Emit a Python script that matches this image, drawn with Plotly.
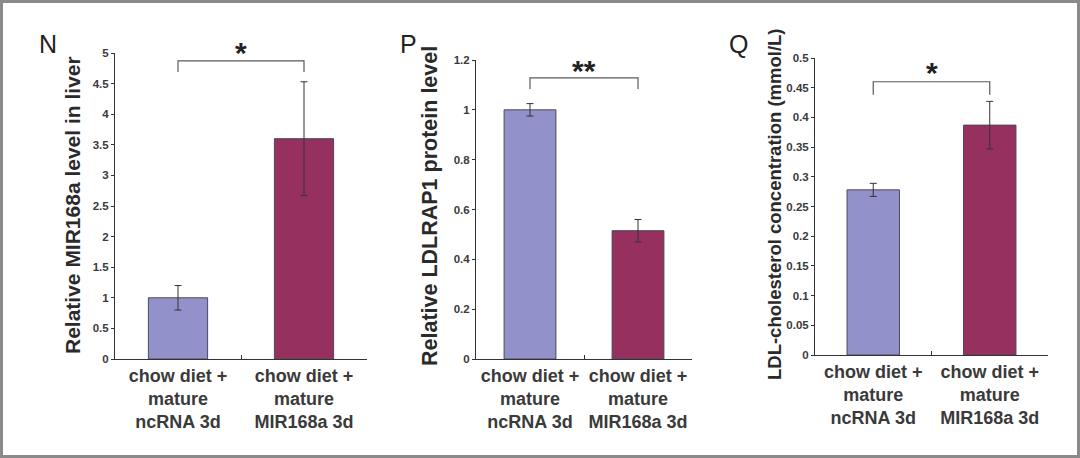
import plotly.graph_objects as go

W, H = 1080, 458

categories = ["ncRNA", "MIR168a"]
cat_labels = ["<b>chow diet +</b><br><b>mature</b><br><b>ncRNA 3d</b>",
              "<b>chow diet +</b><br><b>mature</b><br><b>MIR168a 3d</b>"]

n_values = [1.0, 3.6]
n_errors = [0.2, 0.93]
p_values = [1.0, 0.515]
p_errors = [0.025, 0.045]
q_values = [0.278, 0.387]
q_errors = [0.011, 0.04]

panel_letters = ["N", "P", "Q"]
y_titles = ["Relative MIR168a level in liver", "Relative LDLRAP1 protein level",
            "LDL-cholesterol concentration (mmol/L)"]
y_ranges = [[0, 5], [0, 1.2], [0, 0.5]]
y_tickvals = [
    [0, 0.5, 1, 1.5, 2, 2.5, 3, 3.5, 4, 4.5, 5],
    [0, 0.2, 0.4, 0.6, 0.8, 1, 1.2],
    [0, 0.05, 0.1, 0.15, 0.2, 0.25, 0.3, 0.35, 0.4, 0.45, 0.5],
]
y_ticktext = [
    ["0", "0.5", "1", "1.5", "2", "2.5", "3", "3.5", "4", "4.5", "5"],
    ["0", "0.2", "0.4", "0.6", "0.8", "1", "1.2"],
    ["0", "0.05", "0.1", "0.15", "0.2", "0.25", "0.3", "0.35", "0.4", "0.45", "0.5"],
]
sig_marks = ["*", "**", "*"]
bracket_top = [4.87, 1.128, 0.46]
bracket_low = [4.69, 1.084, 0.438]

bar_colors = ["#9391C9", "#95305F"]

# layout geometry (pixels)
x_px = [(115, 367), (476, 692), (815, 1048)]
y_px = [(53, 359), (60, 359), (58, 355)]
bar_widths = [0.47, 0.48, 0.45]
title_x = [72, 430, 774]
title_y = [205, 206, 204]
title_size = [21, 21.5, 18.5]
letter_x = [48, 408, 738]
letter_y = 44
star_shift = [8, 7, 9]

values = [n_values, p_values, q_values]
errors = [n_errors, p_errors, q_errors]

fig = go.Figure()
for i in range(3):
    xa = "x" if i == 0 else f"x{i+1}"
    ya = "y" if i == 0 else f"y{i+1}"
    fig.add_trace(go.Bar(
        x=categories, y=values[i], xaxis=xa, yaxis=ya,
        width=bar_widths[i],
        marker=dict(color=bar_colors, line=dict(color="#4a4a5a", width=1)),
        error_y=dict(type="data", array=errors[i], visible=True,
                     color="#333333", thickness=1, width=3.5),
        showlegend=False, hoverinfo="skip",
    ))
    fig.add_trace(go.Scatter(
        x=[categories[0], categories[0], categories[1], categories[1]],
        y=[bracket_low[i], bracket_top[i], bracket_top[i], bracket_low[i]],
        xaxis=xa, yaxis=ya, mode="lines",
        line=dict(color="#5a5a5a", width=1.2),
        showlegend=False, hoverinfo="skip", cliponaxis=False,
    ))

FONT = "Liberation Sans, Arial, sans-serif"
layout = dict(
    width=W, height=H,
    margin=dict(l=0, r=0, t=0, b=0, pad=0, autoexpand=False),
    paper_bgcolor="white", plot_bgcolor="white",
    font=dict(family=FONT, color="#333333"),
)
annotations = []
for i in range(3):
    xk = "xaxis" if i == 0 else f"xaxis{i+1}"
    yk = "yaxis" if i == 0 else f"yaxis{i+1}"
    xref = "x" if i == 0 else f"x{i+1}"
    yref = "y" if i == 0 else f"y{i+1}"
    x0, x1 = x_px[i]
    ytop, ybot = y_px[i]
    layout[xk] = dict(
        domain=[x0 / W, x1 / W], anchor=yref, automargin=False,
        type="category", range=[-0.5, 1.5],
        tickmode="array", tickvals=categories, ticktext=cat_labels,
        tickson="boundaries", ticks="inside", ticklen=4, tickcolor="#333333",
        showline=True, linecolor="#333333", linewidth=1,
        showgrid=False, zeroline=False,
        tickfont=dict(size=18, color="#3a3a3a", family=FONT),
        fixedrange=True,
    )
    layout[yk] = dict(
        domain=[(H - ybot) / H, (H - ytop) / H], anchor=xref, automargin=False,
        range=y_ranges[i], tickmode="array",
        tickvals=y_tickvals[i], ticktext=["<b>" + t + "</b>" for t in y_ticktext[i]],
        ticks="outside", ticklen=3, tickcolor="#333333",
        showline=True, linecolor="#333333", linewidth=1,
        showgrid=False, zeroline=False,
        tickfont=dict(size=11.5, color="#3a3a3a", family=FONT),
        fixedrange=True,
    )
    annotations.append(dict(
        text="<b>" + y_titles[i] + "</b>", textangle=-90,
        x=title_x[i] / W, y=(H - title_y[i]) / H, xref="paper", yref="paper",
        xanchor="center", yanchor="middle", showarrow=False,
        font=dict(size=title_size[i], color="#2a2a2a"),
    ))
    annotations.append(dict(
        text=panel_letters[i], x=letter_x[i] / W, y=(H - letter_y) / H,
        xref="paper", yref="paper", xanchor="center", yanchor="middle",
        showarrow=False, font=dict(size=25, color="#222222"),
    ))
    annotations.append(dict(
        text="<b>" + sig_marks[i] + "</b>", x=0.5, y=bracket_top[i],
        xref=xref, yref=yref, xanchor="center", yanchor="middle",
        showarrow=False, yshift=star_shift[i], font=dict(size=30, color="#222222"),
    ))
layout["annotations"] = annotations
layout["shapes"] = [dict(
    type="rect", xref="paper", yref="paper",
    x0=1.5 / W, x1=1 - 1.5 / W, y0=1.5 / H, y1=1 - 1.5 / H,
    line=dict(color="#8a8a8a", width=3), layer="above",
)]
fig.update_layout(**layout)
fig.write_html("out.html", config={"displayModeBar": False},
               post_script="document.body.style.margin='0';")
